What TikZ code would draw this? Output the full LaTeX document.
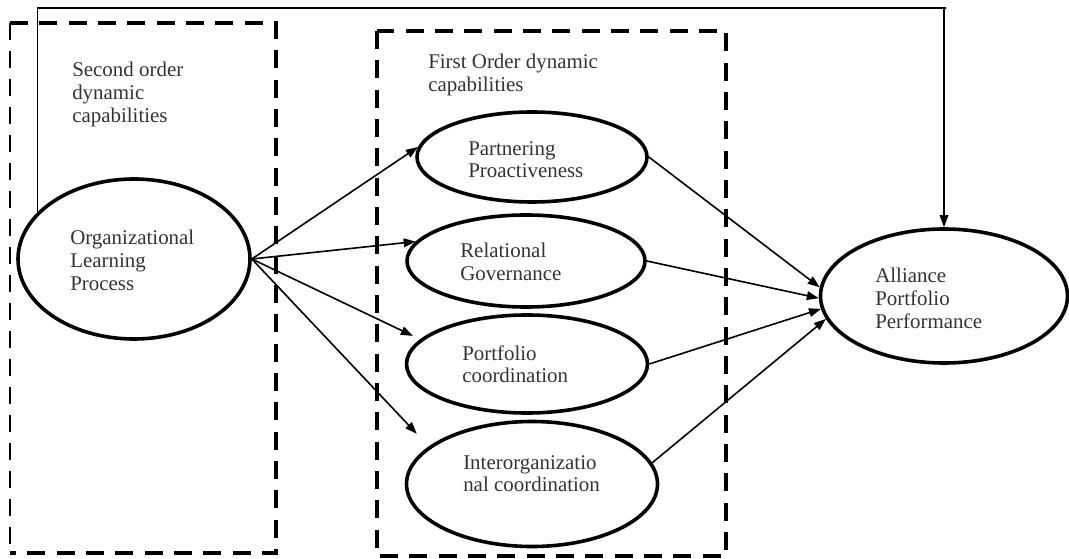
\documentclass[tikz,border=0pt]{standalone}
\usepackage{fontspec}
\setmainfont{Liberation Serif}
\usetikzlibrary{arrows.meta,shapes.geometric,calc}
\tikzset{
  oval/.style={ellipse,draw,line width=2.7pt,inner sep=0pt},
  thickdash/.style={line width=2.5pt,dash pattern=on 13.5pt off 8.5pt},
  thindash/.style={line width=1.1pt,dash pattern=on 13pt off 8pt},
  conn/.style={line width=1.2pt,-{Triangle[length=9pt,width=6.5pt]}},
  fb/.style={line width=1pt,-{Triangle[length=9pt,width=6.5pt]}},
  lbl/.style={anchor=north west,inner sep=0pt,align=left,text=black!80,
    font=\fontsize{15.7}{17}\selectfont},
}
\begin{document}
\begin{tikzpicture}[x=0.75pt,y=-0.75pt]
\useasboundingbox (0,0) rectangle (1069,559);
% dashed group boxes
\draw[thickdash] (10,23) -- (276,23) -- (276,553) -- (10,553);
\draw[thindash] (10,23) -- (10,553);
\draw[thickdash] (377,31) rectangle (726,556);
% ellipses
\node[oval,minimum width=174pt,minimum height=120pt] (OLP) at (134,259) {};
\node[oval,minimum width=172.5pt,minimum height=67.5pt] (PP) at (532,157) {};
\node[oval,minimum width=178.5pt,minimum height=69pt] (RG) at (526,261) {};
\node[oval,minimum width=180.75pt,minimum height=73.5pt] (PC) at (527,364) {};
\node[oval,minimum width=188.25pt,minimum height=93.75pt] (IOC) at (532,484) {};
\node[oval,minimum width=185.25pt,minimum height=100.5pt] (APP) at (944,296) {};
% labels
\node[lbl] (l2) at (72,62) {Second order\\dynamic\\capabilities};
\node[lbl] (l1) at (428,54) {First Order dynamic\\capabilities};
\node[lbl] (tOLP) at (70,230) {Organizational\\Learning\\Process};
\node[lbl] (tPP) at (468,141) {Partnering\\Proactiveness};
\node[lbl] (tRG) at (460,243) {Relational\\Governance};
\node[lbl] (tPC) at (462,345) {Portfolio\\coordination};
\node[lbl] (tIOC) at (463,455) {Interorganizatio\\nal coordination};
\node[lbl] (tAPP) at (875,268) {Alliance\\Portfolio\\Performance};
% connectors
\draw[conn] (OLP.east) -- (PP.175);
\draw[conn] (OLP.east) -- (RG.170);
\draw[conn,shorten >=6pt] (OLP.east) -- (PC.167);
\draw[conn,shorten >=13pt] (OLP.east) -- (IOC.160);
\draw[conn] (PP.east) -- (APP.176);
\draw[conn] (RG.east) -- (APP.181);
\draw[conn] (PC.east) -- (APP.186);
\draw[conn] (IOC.10) -- (APP.191);
\coordinate (fbtop) at (946,8);
\draw[fb] (OLP.154) |- (fbtop) -| (APP.north);
\end{tikzpicture}
\end{document}
